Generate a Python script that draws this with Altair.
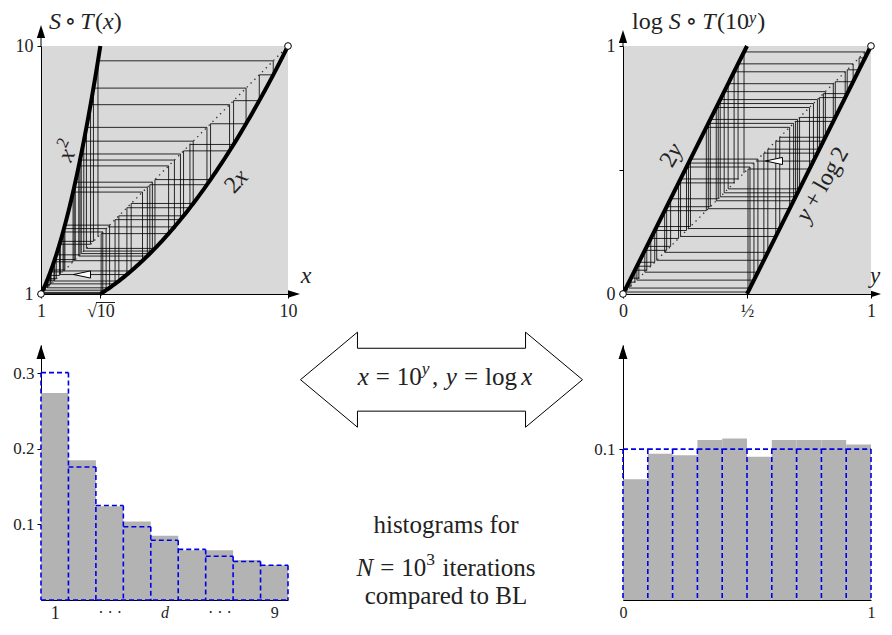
import math
import numpy as np
import pandas as pd
import altair as alt

FONT = "'Liberation Serif', 'Times New Roman', 'DejaVu Serif', serif"
TXT = "#222222"
BG = "#d9d9d9"
BAR = "#b3b3b3"
BLUE = "#0000e6"

# ---------------- data ----------------
# orbit of the cobweb, in log coordinates
orbit_log = [0.488, 0.976, 0.952, 0.904, 0.808, 0.616, 0.232, 0.464, 0.928, 0.856,
             0.712, 0.424, 0.848, 0.696, 0.392, 0.784, 0.568, 0.136, 0.272, 0.544,
             0.088, 0.176, 0.352, 0.704, 0.408, 0.816, 0.632, 0.264, 0.528, 0.056,
             0.112, 0.224, 0.448, 0.896, 0.792, 0.584, 0.168, 0.336, 0.672, 0.344,
             0.688, 0.376, 0.752, 0.504, 0.008, 0.016, 0.032, 0.064, 0.128, 0.256,
             0.512, 0.024, 0.048, 0.096, 0.192, 0.384, 0.768, 0.536]

digits = [1, 2, 3, 4, 5, 6, 7, 8, 9]
digit_freq = [0.274, 0.185, 0.124, 0.104, 0.085, 0.066, 0.066, 0.053, 0.046]
benford = [0.301, 0.176, 0.125, 0.097, 0.079, 0.067, 0.058, 0.051, 0.046]

bin_left = [0.0, 0.1, 0.2, 0.3, 0.4, 0.5, 0.6, 0.7, 0.8, 0.9]
mant_freq = [0.080, 0.097, 0.096, 0.106, 0.107, 0.095, 0.106, 0.106, 0.106, 0.103]
uniform = [0.1, 0.1, 0.1, 0.1, 0.1, 0.1, 0.1, 0.1, 0.1, 0.1]

tl_dom = [1.0, 10.0]
tr_dom = [0.0, 1.0]
tl_xticks = [1.0, 10 ** 0.5, 10.0]
tl_yticks = [1.0, 10.0]
tr_ticks = [0.0, 0.5, 1.0]
bl_yticks = [0.1, 0.2, 0.3]
br_yticks = [0.1]

# ---------------- helpers ----------------
ONE = pd.DataFrame({"k": [0]})

WN = {' ': .25, '=': .564, ',': .25, '(': .333, ')': .333, '+': .564, '∘': .5,
      'a': .444, 'b': .5, 'c': .444, 'd': .5, 'e': .444, 'f': .333, 'g': .5, 'h': .5,
      'i': .278, 'l': .278, 'm': .778, 'n': .5, 'o': .5, 'p': .5, 'r': .333, 's': .389,
      't': .278, 'u': .5, 'x': .5, 'y': .5, 'B': .667, 'L': .611, 'N': .722}
WI = {'x': .444, 'y': .444, 'S': .5, 'T': .556, 'N': .667, 'd': .5}


def tw(s, st):
    tab = WI if st == "italic" else WN
    return sum(tab.get(c, WN.get(c, 0.5)) for c in s)


def P(t, st="normal", sc=1.0, r=0.0, g=0.0):
    return (t, st, sc, r, g)


def rich(pieces, cx, cy, size, align="center", angle=0.0, vcenter=False, color=TXT):
    th = math.radians(angle)
    ux, uy = math.cos(th), math.sin(th)
    upx, upy = math.sin(th), -math.cos(th)
    total = sum(tw(t, st) * sc * size + g * size for t, st, sc, r, g in pieces) - pieces[-1][4] * size
    cum = -total / 2 if align == "center" else 0.0
    bx, by = cx, cy
    if vcenter:
        bx -= upx * 0.32 * size
        by -= upy * 0.32 * size
    out = []
    for t, st, sc, r, g in pieces:
        fs = size * sc
        px = bx + cum * ux + r * size * upx
        py = by + cum * uy + r * size * upy
        out.append(
            alt.Chart(pd.DataFrame({"t": [t]}))
            .mark_text(align="left", baseline="alphabetic", font=FONT, fontSize=fs,
                       fontStyle=st, angle=angle % 360, color=color)
            .encode(x=alt.value(px), y=alt.value(py), text="t:N")
        )
        cum += tw(t, st) * fs + g * size
    return out


def cobweb(vals):
    rows = []
    for a, b in zip(vals[:-1], vals[1:]):
        rows.append(dict(x=a, y=a, x2=a, y2=b))
        rows.append(dict(x=a, y=b, x2=b, y2=b))
    return pd.DataFrame(rows)


def outline_parts(lefts, rights, heights):
    edges = list(lefts) + [rights[-1]]
    eh = [heights[0]] + [max(a, b) for a, b in zip(heights[:-1], heights[1:])] + [heights[-1]]
    vert = pd.DataFrame({"x": edges, "h": eh})
    tops = pd.DataFrame({"lo": lefts, "hi": rights, "h": heights})
    return vert, tops


UP = "M0,-1L0.32,0L-0.32,0Z"
RIGHT = "M1,0L0,-0.32L0,0.32Z"
LEFT = "M-1,0L1,-0.42L1,0.42Z"
BIG = ("M-1,0L-0.596,-0.337L-0.596,-0.223L0.596,-0.223L0.596,-0.337L1,0"
       "L0.596,0.337L0.596,0.223L-0.596,0.223L-0.596,0.337Z")


def arrow(shape, x, y, length=13.0):
    return alt.Chart(ONE).mark_point(shape=shape, filled=True, color="black", size=4 * length * length,
                                     opacity=1, strokeWidth=0).encode(x=alt.value(x), y=alt.value(y))


def vrule(x, y1, y2):
    return alt.Chart(ONE).mark_rule(color="black", strokeWidth=1).encode(
        x=alt.value(x), y=alt.value(y1), y2=alt.value(y2))


def hrule(x1, x2, y, color="black"):
    return alt.Chart(ONE).mark_rule(color=color, strokeWidth=1).encode(
        x=alt.value(x1), x2=alt.value(x2), y=alt.value(y))


def orbit_marker(x, y):
    return alt.Chart(ONE).mark_point(shape=LEFT, filled=True, fill="white", stroke="black",
                                     strokeWidth=1, size=289, opacity=1).encode(
        x=alt.value(x), y=alt.value(y))


TITLE_BASE = -17
TITLE_FS = 24
WEB = dict(color="black", strokeWidth=1, opacity=0.82)
DASH = dict(color=BLUE, strokeWidth=1.6, strokeDash=[5, 3])

# ---------------- top-left panel ----------------
W1, H1 = 247, 248
tl_xs = alt.Scale(domain=tl_dom, nice=False, zero=False)
tl_ys = alt.Scale(domain=tl_dom, nice=False, zero=False)
tl_xa = alt.Axis(title=None, values=tl_xticks,
                 labelExpr="datum.value < 2 ? '1' : (datum.value < 5 ? '√10' : '10')",
                 tickSize=4, labelPadding=4, labelFontSize=18)
tl_ya = alt.Axis(title=None, values=tl_yticks, format="d", tickSize=4, labelPadding=4, labelFontSize=18)


def tlx(f):
    return alt.X(f, type="quantitative", scale=tl_xs, axis=tl_xa)


def tly(f):
    return alt.Y(f, type="quantitative", scale=tl_ys, axis=tl_ya)


tl_orbit = [10 ** v for v in orbit_log]
t_l = np.linspace(0.0, 0.5, 80)
t_r = np.linspace(0.5, 1.0, 80)
tl_curve = pd.DataFrame({
    "x": np.concatenate([10 ** t_l, 10 ** t_r]),
    "y": np.concatenate([10 ** (2 * t_l), 10 ** (2 * t_r - 1)]),
    "b": ["l"] * 80 + ["r"] * 80,
})
tl_diag = pd.DataFrame({"x": tl_dom, "y": tl_dom})

tl_layers = [
    alt.Chart(cobweb(tl_orbit)).mark_rule(**WEB).encode(
        x=tlx("x"), y=tly("y"), x2="x2:Q", y2="y2:Q"),
    alt.Chart(tl_diag).mark_line(color="#333333", strokeWidth=1.3, strokeDash=[1.4, 4]).encode(
        x=tlx("x"), y=tly("y")),
    alt.Chart(tl_curve).mark_line(color="black", strokeWidth=4).encode(
        x=tlx("x"), y=tly("y"), detail="b:N"),
    alt.Chart(tl_diag).mark_point(shape="circle", filled=True, fill="white", stroke="black",
                                  strokeWidth=1, size=45, opacity=1).encode(x=tlx("x"), y=tly("y")),
    orbit_marker(41, 228.5),
    vrule(0, 0, -8), arrow(UP, 0, -8),
    arrow(RIGHT, W1, H1, 12),
    hrule(55, 74, 256.5, TXT),  # vinculum of the square-root tick label
]
tl_layers += rich([P("S", "italic", g=.15), P("∘", g=.15), P("T", "italic", g=.06), P("("),
                   P("x", "italic"), P(")")], 8, TITLE_BASE, TITLE_FS, align="left")
tl_layers += rich([P("x", "italic"), P("2", sc=0.7, r=0.45)], 27, 105, 24, angle=295, vcenter=True)
tl_layers += rich([P("2"), P("x", "italic")], 195, 135, 24, angle=313, vcenter=True)
tl_layers += rich([P("x", "italic")], 265, 229, 24, vcenter=True)
tl = alt.layer(*tl_layers).properties(width=W1, height=H1, view=alt.ViewBackground(fill=BG, stroke=None))

# ---------------- top-right panel ----------------
W3, H3 = 248, 248
tr_xs = alt.Scale(domain=tr_dom, nice=False, zero=False)
tr_ys = alt.Scale(domain=tr_dom, nice=False, zero=False)
tr_xa = alt.Axis(title=None, values=tr_ticks,
                 labelExpr="datum.value == 0 ? '0' : (datum.value == 1 ? '1' : '½')",
                 tickSize=4, labelPadding=4, labelFontSize=18)
tr_ya = alt.Axis(title=None, values=tr_ticks,
                 labelExpr="datum.value == 0 ? '0' : (datum.value == 1 ? '1' : '')",
                 tickSize=4, labelPadding=4, labelFontSize=18)


def trx(f):
    return alt.X(f, type="quantitative", scale=tr_xs, axis=tr_xa)


def tr_y(f):
    return alt.Y(f, type="quantitative", scale=tr_ys, axis=tr_ya)


s_l = np.array([0.0, 0.5])
s_r = np.array([0.5, 1.0])
tr_curve = pd.DataFrame({
    "x": np.concatenate([s_l, s_r]),
    "y": np.concatenate([2 * s_l, 2 * s_r - 1]),
    "b": ["l", "l", "r", "r"],
})
tr_diag = pd.DataFrame({"x": tr_dom, "y": tr_dom})

tr_layers = [
    alt.Chart(cobweb(orbit_log)).mark_rule(**WEB).encode(
        x=trx("x"), y=tr_y("y"), x2="x2:Q", y2="y2:Q"),
    alt.Chart(tr_diag).mark_line(color="#333333", strokeWidth=1.3, strokeDash=[1.4, 4]).encode(
        x=trx("x"), y=tr_y("y")),
    alt.Chart(tr_curve).mark_line(color="black", strokeWidth=4).encode(
        x=trx("x"), y=tr_y("y"), detail="b:N"),
    alt.Chart(tr_diag).mark_point(shape="circle", filled=True, fill="white", stroke="black",
                                  strokeWidth=1, size=45, opacity=1).encode(x=trx("x"), y=tr_y("y")),
    orbit_marker(151, 115),
    vrule(0, 0, -3), arrow(UP, 0, -3),
    arrow(RIGHT, W3, H3, 10),
]
tr_layers += rich([P("log", g=.25), P("S", "italic", g=.2), P("∘", g=.2), P("T", "italic", g=.06),
                   P("(10"), P("y", "italic", sc=0.68, r=0.24, g=.04), P(")")], 9, TITLE_BASE, TITLE_FS,
                  align="left")
tr_layers += rich([P("2"), P("y", "italic")], 48, 109, 24, angle=300, vcenter=True)
tr_layers += rich([P("y", "italic", g=.22), P("+", g=.22), P("log", g=.17), P("2")],
                  199, 138, 24, angle=300, vcenter=True)
tr_layers += rich([P("y", "italic")], 252, 230, 23, vcenter=True)
tr = alt.layer(*tr_layers).properties(width=W3, height=H3, view=alt.ViewBackground(fill=BG, stroke=None))

# ---------------- bottom-left panel ----------------
H2 = 255
bl_lo = [d - 0.5 for d in digits]
bl_hi = [d + 0.5 for d in digits]
bl_df = pd.DataFrame({"lo": bl_lo, "hi": bl_hi, "f": digit_freq})
bl_vert, bl_tops = outline_parts(bl_lo, bl_hi, benford)
bl_base = pd.DataFrame({"lo": [bl_lo[0]], "hi": [bl_hi[-1]], "h": [0.0]})
bl_xs = alt.Scale(domain=[0.5, 9.5], nice=False, zero=False)
bl_ys = alt.Scale(domain=[0, 0.3375], nice=False)
bl_xa = alt.Axis(title=None, values=[1, 3, 5, 7, 9], ticks=False, labelPadding=4,
                 labelExpr="datum.value == 1 ? '1' : (datum.value == 5 ? 'd' : (datum.value == 9 ? '9' : '· · ·'))",
                 labelFontSize={"condition": {"test": "datum.value == 1", "value": 18}, "value": 16},
                 labelFontStyle={"condition": {"test": "datum.value == 5", "value": "italic"}, "value": "normal"})
bl_ya = alt.Axis(title=None, values=bl_yticks, format=".1f", tickSize=4, labelPadding=3, labelFontSize=17)


def blx(f):
    return alt.X(f, type="quantitative", scale=bl_xs, axis=bl_xa)


def bly(f):
    return alt.Y(f, type="quantitative", scale=bl_ys, axis=bl_ya)


bl_layers = [
    alt.Chart(bl_df).mark_rect(color=BAR).encode(x=blx("lo"), x2="hi:Q", y=bly("f"), y2=alt.datum(0)),
    alt.Chart(bl_vert).mark_rule(**DASH).encode(x=blx("x"), y=bly("h"), y2=alt.datum(0)),
    alt.Chart(bl_tops).mark_rule(**DASH).encode(x=blx("lo"), x2="hi:Q", y=bly("h")),
    alt.Chart(bl_base).mark_rule(**DASH).encode(x=blx("lo"), x2="hi:Q", y=bly("h")),
    arrow(UP, 0, 14, 14),
]
bl = alt.layer(*bl_layers).properties(width=W1, height=H2)

# ---------------- bottom-right panel ----------------
br_hi = [round(b + 0.1, 10) for b in bin_left]
br_df = pd.DataFrame({"lo": bin_left, "hi": br_hi, "f": mant_freq})
br_vert, br_tops = outline_parts(bin_left, br_hi, uniform)
br_xs = alt.Scale(domain=tr_dom, nice=False, zero=False)
br_ys = alt.Scale(domain=[0, 0.169], nice=False)
br_xa = alt.Axis(title=None, values=[0, 1], ticks=False, labelPadding=4, labelFontSize=16, format="d")
br_ya = alt.Axis(title=None, values=br_yticks, format=".1f", tickSize=4, labelPadding=4, labelFontSize=17)


def brx(f):
    return alt.X(f, type="quantitative", scale=br_xs, axis=br_xa)


def bry(f):
    return alt.Y(f, type="quantitative", scale=br_ys, axis=br_ya)


br_layers = [
    alt.Chart(br_df).mark_rect(color=BAR).encode(x=brx("lo"), x2="hi:Q", y=bry("f"), y2=alt.datum(0)),
    alt.Chart(br_vert).mark_rule(**DASH).encode(x=brx("x"), y=bry("h"), y2=alt.datum(0)),
    alt.Chart(br_tops).mark_rule(**DASH).encode(x=brx("lo"), x2="hi:Q", y=bry("h")),
    arrow(UP, 0, 14, 14),
]
br = alt.layer(*br_layers).properties(width=W3, height=H2)

# ---------------- middle column ----------------
WM = 295
mt = alt.Chart(ONE).mark_point(opacity=0).encode(x=alt.value(0), y=alt.value(0)).properties(width=WM, height=H1)

mb_layers = [
    alt.Chart(ONE).mark_point(shape=BIG, filled=True, fill="white", stroke="black", strokeWidth=1,
                              size=282 * 282, opacity=1).encode(x=alt.value(133.5), y=alt.value(34.7)),
]
mb_layers += rich([P("x", "italic", g=.28), P("=", g=.28), P("10"), P("y", "italic", sc=0.7, r=0.45, g=.1),
                   P(",", g=.3), P("y", "italic", g=.28), P("=", g=.28), P("log", g=.17), P("x", "italic")],
                  137, 40, 25)
mb_layers += rich([P("histograms for")], 138, 188, 25)
mb_layers += rich([P("N", "italic", g=.28), P("=", g=.28), P("10"), P("3", sc=0.7, r=0.45, g=.3),
                   P("iterations")], 138, 231, 25)
mb_layers += rich([P("compared to BL")], 138, 259, 25)
mb = alt.layer(*mb_layers).properties(width=WM, height=H2)

chart = alt.concat(tl, mt, tr, bl, mb, br, columns=3, spacing={"row": 51, "column": 20},
                   bounds="flush", align="each").properties(
    padding={"left": 4, "top": 2, "right": 0, "bottom": 0}
).configure_axis(
    labelFont=FONT, labelColor=TXT, domainColor="black", tickColor="black", grid=False,
    labelFlush=False, labelOverlap=False, zindex=1, domainWidth=1, tickWidth=1
).configure_view(stroke=None)

chart.save("out.html", embed_options={"renderer": "svg", "actions": False})
